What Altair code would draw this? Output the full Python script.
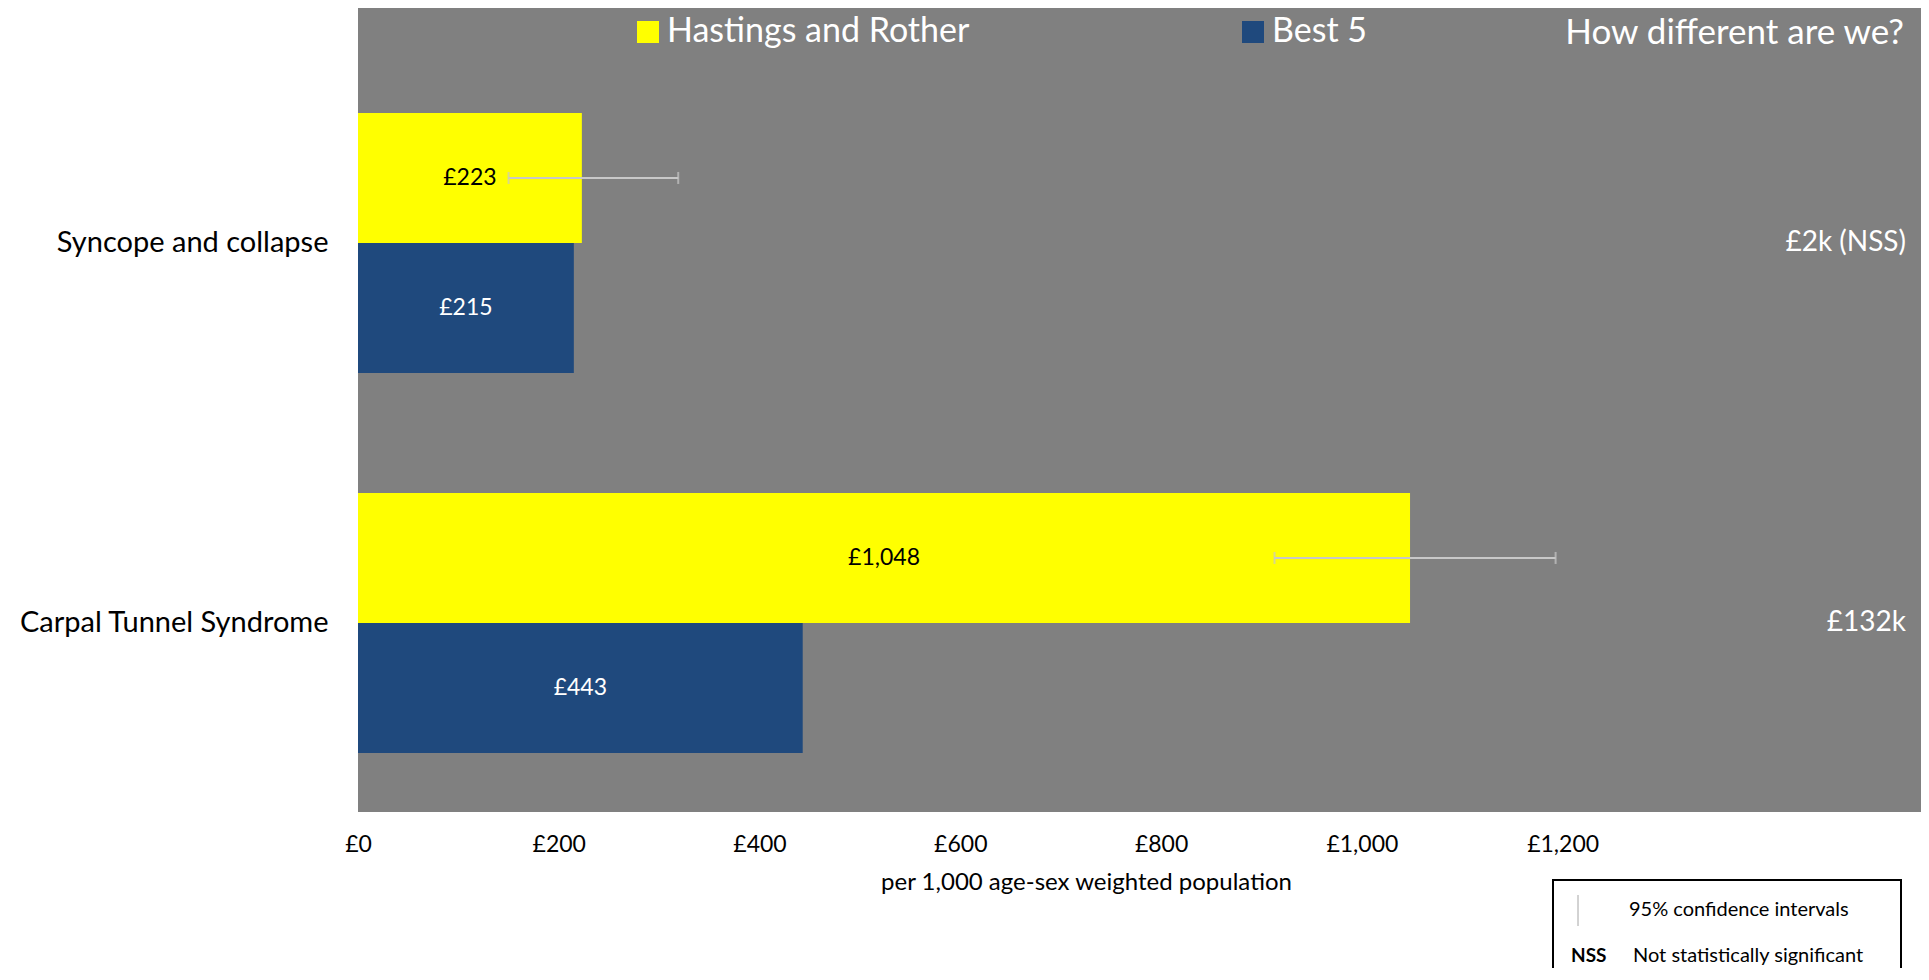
import altair as alt
import pandas as pd

# ---------------- data ----------------
categories = ["Syncope and collapse", "Carpal Tunnel Syndrome"]
series = ["Hastings and Rother", "Best 5"]
hastings = [223, 1048]
best5 = [215, 443]
ci_low = [150, 913]
ci_high = [319, 1193]
differences = ["£2k (NSS)", "£132k"]
x_ticks = [0, 200, 400, 600, 800, 1000, 1200]
header = ["How different are we?"]
key_texts = ["95% confidence intervals", "Not statistically significant"]

FONT = "Lato"
YELLOW = "#FFFF00"
BLUE = "#1F497D"
GRAY = "#808080"
CI_COLOR = "#C8C8C8"

rows = []
for c, h, b in zip(categories, hastings, best5):
    rows.append({"category": c, "series": series[0], "value": h})
    rows.append({"category": c, "series": series[1], "value": b})
bars_df = pd.DataFrame(rows)
ci_df = pd.DataFrame({"category": categories, "series": [series[0]] * 2,
                      "low": ci_low, "high": ci_high})
diff_df = pd.DataFrame({"category": categories, "label": differences})

W = 1563
H = 804

x_scale = alt.Scale(domain=[0, 1557], nice=False, zero=True)
y_scale = alt.Scale(domain=categories, paddingInner=0.31579,
                    paddingOuter=0.21579, align=0.64)
yoff_scale = alt.Scale(domain=series, paddingInner=0, paddingOuter=0)

x_axis = alt.Axis(values=x_ticks, labelExpr="'£' + format(datum.value, ',')",
                  title="per 1,000 age-sex weighted population",
                  ticks=False, domain=False, grid=False, labelFlush=False,
                  labelFontSize=23, labelPadding=21, labelColor="black",
                  labelFont=FONT, titleFont=FONT, titleFontSize=24,
                  titleFontWeight="normal", titleColor="black",
                  titleX=728, titleY=70, titleBaseline="middle",
                  titleAlign="center")
y_axis = alt.Axis(title=None, ticks=False, domain=False, grid=False,
                  labelFontSize=29, labelColor="black", labelPadding=30,
                  labelFont=FONT, labelLimit=500)

Y = alt.Y("category:N", scale=y_scale, axis=y_axis, sort=categories)
YOFF = alt.YOffset("series:N", scale=yoff_scale)

bars = alt.Chart(bars_df).mark_bar().encode(
    x=alt.X("value:Q", scale=x_scale, axis=x_axis),
    y=Y,
    yOffset=YOFF,
    color=alt.Color("series:N",
                    scale=alt.Scale(domain=series, range=[YELLOW, BLUE]),
                    legend=alt.Legend(orient="none", legendX=273, legendY=7,
                                      direction="horizontal", title=None,
                                      symbolType="square", symbolSize=484,
                                      symbolStrokeWidth=0, labelFontSize=34,
                                      labelColor="white", labelFont=FONT,
                                      labelOffset=2, columnPadding=266,
                                      padding=0, labelLimit=600)),
)

bar_text = alt.Chart(bars_df).transform_calculate(
    mid="datum.value / 2",
    lbl="'£' + format(datum.value, ',')",
).mark_text(fontSize=23, font=FONT, baseline="middle", align="center").encode(
    x=alt.X("mid:Q", scale=x_scale, axis=x_axis),
    y=Y,
    yOffset=YOFF,
    text="lbl:N",
    color=alt.condition(alt.datum.series == series[0],
                        alt.value("black"), alt.value("white")),
)

ci_rule = alt.Chart(ci_df).mark_rule(color=CI_COLOR, strokeWidth=2).encode(
    x=alt.X("low:Q", scale=x_scale, axis=x_axis),
    x2="high:Q",
    y=Y,
    yOffset=YOFF,
)

ci_caps = alt.Chart(ci_df).transform_fold(
    ["low", "high"], as_=["end", "ci"]
).mark_tick(color=CI_COLOR, thickness=2, size=12).encode(
    x=alt.X("ci:Q", scale=x_scale, axis=x_axis),
    y=Y,
    yOffset=YOFF,
)

diff_text = alt.Chart(diff_df).mark_text(
    align="right", baseline="middle", fontSize=28, font=FONT, color="white"
).encode(
    x=alt.value(1548),
    y=Y,
    text="label:N",
)

header_text = alt.Chart(pd.DataFrame({"t": header})).mark_text(
    align="right", baseline="middle", fontSize=35, font=FONT, color="white"
).encode(x=alt.value(1546), y=alt.value(25), text="t:N")

# key box below the plot
key_box = alt.Chart(pd.DataFrame({"k": [1]})).mark_rect(
    fill="white", stroke="black", strokeWidth=2
).encode(x=alt.value(1195), x2=alt.value(1543), y=alt.value(872), y2=alt.value(990))

key_line = alt.Chart(pd.DataFrame({"k": [1]})).mark_rule(
    color="#A6A6A6", strokeWidth=1
).encode(x=alt.value(1220), y=alt.value(887), y2=alt.value(918))

key_t1 = alt.Chart(pd.DataFrame({"t": [key_texts[0]]})).mark_text(
    align="left", baseline="middle", fontSize=20, font=FONT, color="black"
).encode(x=alt.value(1271), y=alt.value(902), text="t:N")

key_nss = alt.Chart(pd.DataFrame({"t": ["NSS"]})).mark_text(
    align="left", baseline="middle", fontSize=19, font=FONT, color="black",
    fontWeight="bold"
).encode(x=alt.value(1213), y=alt.value(948), text="t:N")

key_t2 = alt.Chart(pd.DataFrame({"t": [key_texts[1]]})).mark_text(
    align="left", baseline="middle", fontSize=20, font=FONT, color="black"
).encode(x=alt.value(1275), y=alt.value(948), text="t:N")

chart = alt.layer(
    bars, bar_text, ci_rule, ci_caps, diff_text, header_text,
    key_box, key_line, key_t1, key_nss, key_t2
).properties(
    width=W, height=H,
    autosize=alt.AutoSizeParams(type="none"),
    padding={"left": 350, "right": 0, "top": 0, "bottom": 156},
    background="white",
).configure_view(fill=GRAY, stroke=None)

chart.save("out.html", embed_options={"renderer": "svg", "actions": False})
